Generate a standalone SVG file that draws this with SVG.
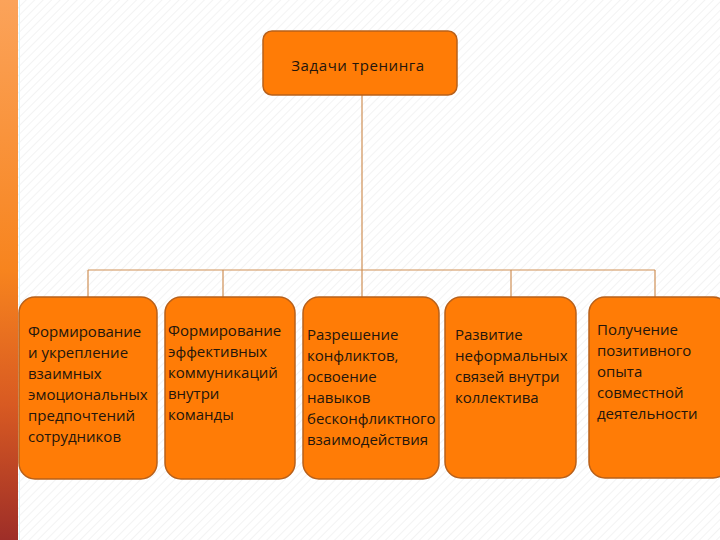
<svg xmlns="http://www.w3.org/2000/svg" width="720" height="540" viewBox="0 0 720 540">
  <defs>
    <linearGradient id="band" x1="0" y1="0" x2="0" y2="1">
      <stop offset="0" stop-color="#FBA35A"/>
      <stop offset="0.5" stop-color="#F7841E"/>
      <stop offset="0.75" stop-color="#D85A22"/>
      <stop offset="1" stop-color="#9E2E28"/>
    </linearGradient>
    <pattern id="hatch" width="6" height="6" patternUnits="userSpaceOnUse" patternTransform="rotate(45)">
      <rect width="6" height="6" fill="#ffffff"/>
      <line x1="0" y1="0" x2="0" y2="6" stroke="#f3f3f3" stroke-width="2"/>
    </pattern>
  </defs>
  <style>
    .box { fill: #FF7C06; stroke: #B8601A; stroke-width: 1.5; }
    .t { font-family: "Open Sans", "Liberation Sans", sans-serif; font-size: 15px; fill: #24160C; }
    .conn { stroke: #CF8F55; stroke-width: 1.2; fill: none; }
  </style>
  <rect width="720" height="540" fill="url(#hatch)"/>
  <rect x="0" y="0" width="18" height="540" fill="url(#band)"/>
  <line x1="19.5" y1="0" x2="19.5" y2="540" stroke="#D8F4FA" stroke-width="1"/>

  <g id="connectors" class="conn">
    <line x1="362" y1="95" x2="362" y2="270"/>
    <line x1="88" y1="270" x2="655" y2="270"/>
    <line x1="88" y1="270" x2="88" y2="297"/>
    <line x1="223" y1="270" x2="223" y2="297"/>
    <line x1="362" y1="270" x2="362" y2="297"/>
    <line x1="511" y1="270" x2="511" y2="297"/>
    <line x1="655" y1="270" x2="655" y2="297"/>
  </g>

  <g id="root">
    <rect class="box" x="263" y="31" width="194" height="64" rx="9"/>
    <text class="t" x="358" y="71" text-anchor="middle" font-size="16" letter-spacing="0.6">Задачи тренинга</text>
  </g>

  <g id="n1">
    <rect class="box" x="19" y="297" width="138" height="182" rx="16"/>
    <text class="t" x="28" y="337">Формирование</text>
    <text class="t" x="28" y="358">и укрепление</text>
    <text class="t" x="28" y="379">взаимных</text>
    <text class="t" x="28" y="400">эмоциональных</text>
    <text class="t" x="28" y="421">предпочтений</text>
    <text class="t" x="28" y="442">сотрудников</text>
  </g>

  <g id="n2">
    <rect class="box" x="165" y="297" width="130" height="182" rx="16"/>
    <text class="t" x="168" y="336">Формирование</text>
    <text class="t" x="168" y="357">эффективных</text>
    <text class="t" x="168" y="378">коммуникаций</text>
    <text class="t" x="168" y="399">внутри</text>
    <text class="t" x="168" y="420">команды</text>
  </g>

  <g id="n3">
    <rect class="box" x="303" y="297" width="136" height="182" rx="16"/>
    <text class="t" x="307" y="340">Разрешение</text>
    <text class="t" x="307" y="361">конфликтов,</text>
    <text class="t" x="307" y="382">освоение</text>
    <text class="t" x="307" y="403">навыков</text>
    <text class="t" x="307" y="424">бесконфликтного</text>
    <text class="t" x="307" y="445">взаимодействия</text>
  </g>

  <g id="n4">
    <rect class="box" x="445" y="297" width="131" height="181" rx="16"/>
    <text class="t" x="455" y="340">Развитие</text>
    <text class="t" x="455" y="361">неформальных</text>
    <text class="t" x="455" y="382">связей внутри</text>
    <text class="t" x="455" y="403">коллектива</text>
  </g>

  <g id="n5">
    <rect class="box" x="589" y="297" width="140" height="181" rx="16"/>
    <text class="t" x="597" y="335">Получение</text>
    <text class="t" x="597" y="356">позитивного</text>
    <text class="t" x="597" y="377">опыта</text>
    <text class="t" x="597" y="398">совместной</text>
    <text class="t" x="597" y="419">деятельности</text>
  </g>
</svg>
